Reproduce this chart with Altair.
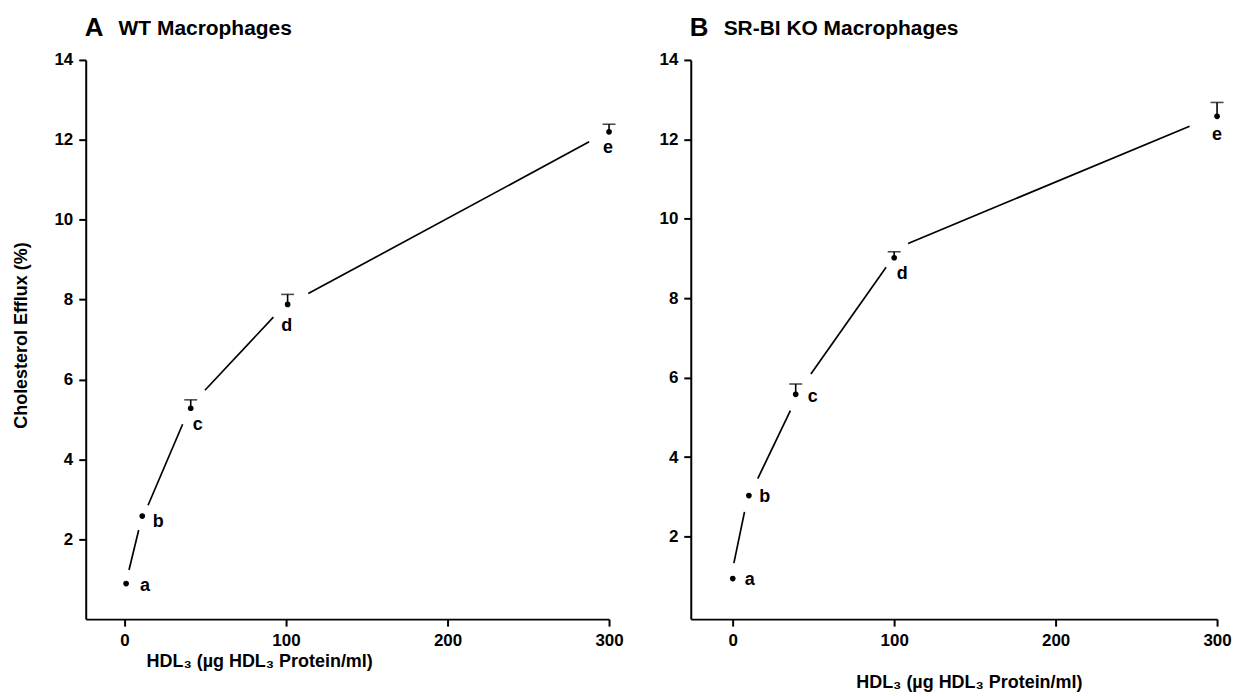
import altair as alt
import pandas as pd

# ---- data ----
letters = ["a", "b", "c", "d", "e"]

a_x = [1, 11, 41, 101, 300]
a_y = [0.89, 2.58, 5.28, 7.88, 12.2]
a_err = [None, None, 5.49, 8.13, 12.39]
a_seg_x1 = [2.8, 14.6, 49.8, 113.8]
a_seg_y1 = [1.23, 2.85, 5.73, 8.15]
a_seg_x2 = [8.8, 36.0, 92.2, 287.7]
a_seg_y2 = [2.23, 4.88, 7.56, 11.95]

b_x = [0, 10, 39, 100, 300]
b_y = [0.94, 3.03, 5.58, 9.02, 12.58]
b_err = [None, None, 5.84, 9.17, 12.93]
b_seg_x1 = [0.7, 15.5, 48.4, 108.6]
b_seg_y1 = [1.33, 3.46, 6.09, 9.38]
b_seg_x2 = [7.3, 35.7, 95.0, 283.0]
b_seg_y2 = [2.62, 5.17, 8.78, 12.33]

x_ticks = [0, 100, 200, 300]
y_ticks = [2, 4, 6, 8, 10, 12, 14]

panel_letters = ["A", "B"]
panel_names = ["WT Macrophages", "SR-BI KO Macrophages"]
y_title = "Cholesterol Efflux (%)"
x_title = "HDL\u2083 (\u00b5g HDL\u2083 Protein/ml)"

FONT = "Liberation Sans"

# label offsets (pixels) per letter
a_offsets = {"a": (19, 2), "b": (16, 6), "c": (7, 17), "d": (-1, 22), "e": (-1, 16)}
b_offsets = {"a": (17, 1), "b": (16, 1), "c": (17, 3), "d": (8, 16), "e": (0, 19)}


def panel(xs, ys, errs, sx1, sy1, sx2, sy2, plet, pname, xdom, ydom, width,
          offsets, show_ytitle, xtitle_x, xtitle_y):
    pts = pd.DataFrame({"x": xs, "y": ys, "err": errs, "lab": letters})
    segs = pd.DataFrame({"x1": sx1, "y1": sy1, "x2": sx2, "y2": sy2})
    errs_df = pts.dropna(subset=["err"])

    xscale = alt.Scale(domain=xdom, nice=False, zero=False)
    yscale = alt.Scale(domain=ydom, nice=False, zero=False)
    axis_common = dict(
        domainColor="black", domainWidth=2, tickColor="black", tickWidth=2,
        tickSize=7, labelFont=FONT, labelFontSize=17, labelFontWeight="bold",
        labelColor="black", grid=False, titleFont=FONT, titleFontSize=18,
        titleFontWeight="bold", titleColor="black",
    )
    xaxis = alt.Axis(values=x_ticks, labelPadding=6, title=x_title,
                     titleX=xtitle_x, titleY=xtitle_y, titleAlign="center",
                     titleBaseline="middle", labelFlush=False, **axis_common)
    if show_ytitle:
        yaxis = alt.Axis(values=y_ticks, labelPadding=6, title=y_title,
                         titleX=-64, titleY=276, titleAlign="center",
                         titleBaseline="middle", titleAngle=-90, **axis_common)
    else:
        yaxis = alt.Axis(values=y_ticks, labelPadding=6, title=None, **axis_common)

    def X(f):
        return alt.X(f, type="quantitative", scale=xscale, axis=xaxis)

    def Y(f):
        return alt.Y(f, type="quantitative", scale=yscale, axis=yaxis)

    lines = alt.Chart(segs).mark_rule(color="black", strokeWidth=1.7).encode(
        x=X("x1"), y=Y("y1"), x2="x2", y2="y2")
    bars = alt.Chart(errs_df).mark_rule(color="black", strokeWidth=1.6).encode(
        x=X("x"), y=Y("y"), y2="err")
    caps = alt.Chart(errs_df).mark_tick(color="black", orient="horizontal",
                                        size=13, thickness=1.6).encode(
        x=X("x"), y=Y("err"))
    dots = alt.Chart(pts).mark_circle(color="black", size=32, opacity=1).encode(
        x=X("x"), y=Y("y"))
    layers = [lines, bars, caps, dots]
    for lab in letters:
        dx, dy = offsets[lab]
        layers.append(
            alt.Chart(pts[pts["lab"] == lab]).mark_text(
                font=FONT, fontSize=18, fontWeight="bold", color="black",
                dx=dx, dy=dy, align="center", baseline="middle").encode(
                x=X("x"), y=Y("y"), text="lab:N"))
    t1 = alt.Chart(pd.DataFrame({"t": [plet]})).mark_text(
        font=FONT, fontSize=26, fontWeight="bold", color="black",
        align="left", baseline="alphabetic").encode(
        x=alt.value(-1), y=alt.value(-24), text="t:N")
    t2 = alt.Chart(pd.DataFrame({"t": [pname]})).mark_text(
        font=FONT, fontSize=21, fontWeight="bold", color="black",
        align="left", baseline="alphabetic").encode(
        x=alt.value(33), y=alt.value(-25), text="t:N")
    layers += [t1, t2]
    return alt.layer(*layers).properties(width=width, height=561)


pa = panel(a_x, a_y, a_err, a_seg_x1, a_seg_y1, a_seg_x2, a_seg_y2,
           panel_letters[0], panel_names[0], [-24, 300], [0, 14], 525,
           a_offsets, True, 174, 43)
pb = panel(b_x, b_y, b_err, b_seg_x1, b_seg_y1, b_seg_x2, b_seg_y2,
           panel_letters[1], panel_names[1], [-26, 300], [-0.08, 14], 528,
           b_offsets, False, 279, 64)

chart = alt.hconcat(pa, pb, spacing=82, bounds="flush").properties(
    padding={"left": 13, "top": 14, "right": 5, "bottom": 5},
    background="white",
).configure_view(stroke=None)

chart.save("out.html", embed_options={"renderer": "svg", "actions": False})
